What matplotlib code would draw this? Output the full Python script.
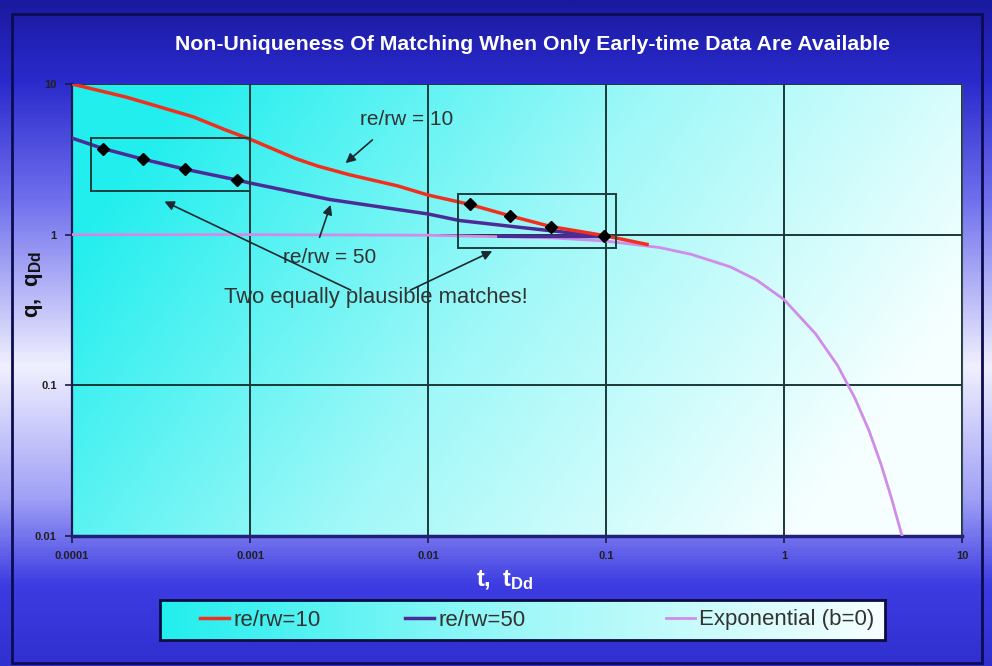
import numpy as np
import matplotlib.pyplot as plt
from matplotlib.colors import LinearSegmentedColormap
from matplotlib.patches import Rectangle
from matplotlib.ticker import NullLocator

plt.rcParams['font.family'] = ['Liberation Sans', 'DejaVu Sans']
plt.rcParams['mathtext.fontset'] = 'custom'
plt.rcParams['mathtext.rm'] = 'Liberation Sans'
plt.rcParams['mathtext.bf'] = 'Liberation Sans:bold'

# re/rw = 10 type curve
t_re10 = [1e-4, 2.0e-4, 3.1e-4, 4.8e-4, 7.3e-4, 1e-3, 1.8e-3, 2.4e-3, 3.6e-3,
          6.8e-3, 1e-2, 1.7e-2, 2.9e-2, 4.9e-2, 0.1, 0.17]
q_re10 = [10.0, 8.2, 7.05, 6.05, 4.95, 4.3, 3.2, 2.85, 2.5,
          2.1, 1.83, 1.59, 1.33, 1.13, 0.98, 0.86]

# re/rw = 50 type curve (data runs back along q ~ 1 at the end)
t_re50 = [1e-4, 1.5e-4, 2.5e-4, 4.3e-4, 8.5e-4, 1e-3, 2.8e-3, 1e-2, 1.5e-2,
          3.0e-2, 4.9e-2, 0.1, 0.025]
q_re50 = [4.37, 3.72, 3.17, 2.72, 2.30, 2.2, 1.71, 1.37, 1.24,
          1.13, 1.06, 0.97, 0.975]

# exponential decline (b = 0)
t_exp = [1e-4, 1e-3, 1e-2, 0.05, 0.1, 0.2, 0.3, 0.5, 0.7, 1.0, 1.5, 2.0,
         2.5, 3.0, 3.5, 4.0, 4.6]
q_exp = [1.0, 0.999, 0.99, 0.95, 0.905, 0.82, 0.74, 0.61, 0.50, 0.37, 0.22,
         0.135, 0.082, 0.05, 0.030, 0.018, 0.01]

# matched field data
t_early = [1.5e-4, 2.5e-4, 4.3e-4, 8.5e-4]
q_early = [3.70, 3.16, 2.71, 2.30]
t_late = [0.0172, 0.0288, 0.0493, 0.098]
q_late = [1.59, 1.33, 1.13, 0.98]

x_ticks = [1e-4, 1e-3, 1e-2, 1e-1, 1, 10]
x_labels = ['0.0001', '0.001', '0.01', '0.1', '1', '10']
y_ticks = [0.01, 0.1, 1, 10]
y_labels = ['0.01', '0.1', '1', '10']

fig = plt.figure(figsize=(9.92, 6.66), dpi=100)

# slide background
bg = fig.add_axes([0, 0, 1, 1], zorder=-10)
bg.axis('off')
bg_cmap = LinearSegmentedColormap.from_list('bg', [
    (0.0, '#1a1aa0'), (0.12, '#2a2acc'), (0.3, '#7070ee'), (0.55, '#f0f0ff'),
    (0.75, '#a0a0f6'), (0.88, '#3c3ce2'), (1.0, '#3030d0')])
bg.imshow(np.linspace(0, 1, 400).reshape(-1, 1), cmap=bg_cmap, aspect='auto',
          extent=[0, 1, 0, 1], origin='upper')
bg.add_patch(Rectangle((0.012, 0.004), 0.978, 0.975, fill=False,
                       ec='#0c0c50', lw=2, transform=bg.transAxes))
bg.set_xlim(0, 1)
bg.set_ylim(0, 1)

pos = [0.0726, 0.1956, 0.8972, 0.6783]
plot_cmap = LinearSegmentedColormap.from_list('pa', ['#22eeee', '#9ff8f8', '#f6ffff'])
back = fig.add_axes(pos, zorder=-5)
back.axis('off')
gx, gy = np.meshgrid(np.linspace(0, 1, 300), np.linspace(1, 0, 200))
back.imshow(np.clip(0.95 * gx + 0.35 * (1 - gy) - 0.12, 0, 1), cmap=plot_cmap,
            aspect='auto', extent=[0, 1, 0, 1], origin='upper')

ax = fig.add_axes(pos)
ax.set_facecolor('none')
ax.set_xscale('log')
ax.set_yscale('log')

ax.plot(t_exp, q_exp, color='#d08ce8', lw=2, zorder=3, label='Exponential (b=0)')
ax.plot(t_re50, q_re50, color='#4b2c96', lw=2.5, zorder=4, label='re/rw=50')
ax.plot(t_re10, q_re10, color='#f0301e', lw=2.5, zorder=5, label='re/rw=10')
ax.plot(t_early, q_early, 'D', color='black', ms=6, zorder=6)
ax.plot(t_late, q_late, 'D', color='black', ms=6, zorder=6)

ax.add_patch(Rectangle((1.28e-4, 1.95), 1e-3 - 1.28e-4, 4.39 - 1.95, fill=False,
                       ec='#1a4040', lw=1.4, zorder=5))
ax.add_patch(Rectangle((0.0147, 0.81), 0.114 - 0.0147, 1.85 - 0.81, fill=False,
                       ec='#1a4040', lw=1.4, zorder=5))

ax.set_xlim(1e-4, 10)
ax.set_ylim(0.01, 10)
ax.set_xticks(x_ticks)
ax.set_xticklabels(x_labels)
ax.set_yticks(y_ticks)
ax.set_yticklabels(y_labels)
ax.xaxis.set_minor_locator(NullLocator())
ax.yaxis.set_minor_locator(NullLocator())
ax.grid(True, which='major', color='#1b3838', lw=1.4, zorder=2)
ax.tick_params(direction='out', length=5, width=1.2, colors='#1a1a40',
               labelsize=8, labelcolor='#202020', pad=6)
for lab in ax.get_xticklabels() + ax.get_yticklabels():
    lab.set_fontweight('bold')
ax.spines['top'].set_visible(False)
ax.spines['right'].set_color('#3a4a5a')
ax.spines['left'].set_color('#1a1a50')
ax.spines['left'].set_linewidth(1.6)
ax.spines['bottom'].set_color('#20207a')
ax.spines['bottom'].set_linewidth(2.5)

txt = dict(color='#333333', fontsize=15, ha='center', va='center', zorder=1)
ax.text(7.6e-3, 5.77, 're/rw = 10', **txt)
ax.text(2.8e-3, 0.70, 're/rw = 50', **txt)
ax.text(5.1e-3, 0.38, 'Two equally plausible matches!', fontsize=15.8,
        **{k: v for k, v in txt.items() if k != 'fontsize'})
arrow = dict(arrowstyle='-|>', color='#1a2a30', lw=1.2, mutation_scale=14)
ax.annotate('', xy=(3.35e-3, 2.9), xytext=(5.0e-3, 4.37), arrowprops=arrow)
ax.annotate('', xy=(2.87e-3, 1.64), xytext=(2.43e-3, 0.92), arrowprops=arrow)
ax.annotate('', xy=(3.2e-4, 1.69), xytext=(3.8e-3, 0.42), arrowprops=arrow)
ax.annotate('', xy=(0.0237, 0.79), xytext=(7.7e-3, 0.42), arrowprops=arrow)

fig.text(0.537, 1 - 45 / 666, 'Non-Uniqueness Of Matching When Only Early-time Data Are Available',
         color='white', fontsize=15.3, fontweight='bold', ha='center', va='center')
fig.text(0.035, 1 - 285 / 666, r'$\mathbf{q,\ q_{Dd}}$', color='#111111', fontsize=16,
         rotation=90, ha='center', va='center')
fig.text(0.509, 1 - 580 / 666, r'$\mathbf{t,\ t_{Dd}}$', color='white', fontsize=17,
         ha='center', va='center')

# legend box with its own gradient
lax = fig.add_axes([160 / 992, 1 - 640 / 666, 725 / 992, 40 / 666], zorder=-4)
lax.imshow(np.linspace(0, 1, 300).reshape(1, -1), cmap=plot_cmap, aspect='auto',
           extent=[0, 1, 0, 1])
lax.set_xticks([])
lax.set_yticks([])
for s in lax.spines.values():
    s.set_color('#0c0c40')
    s.set_linewidth(2)
handles, labels = ax.get_legend_handles_labels()
legend_x = [200, 405, 666]
for hx, i in zip(legend_x, [2, 1, 0]):
    fig.legend([handles[i]], [labels[i]], loc='center left',
               bbox_to_anchor=(hx / 992, 1 - 620 / 666), frameon=False,
               fontsize=16, labelcolor='#333333', handlelength=1.3,
               handletextpad=0.2, borderpad=0, borderaxespad=0)

fig.savefig('out.png', dpi=100)
